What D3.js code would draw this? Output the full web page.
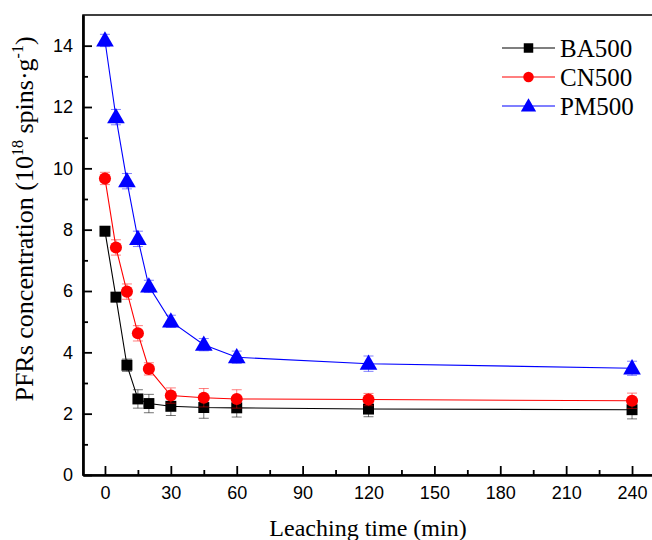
<!DOCTYPE html>
<html><head><meta charset="utf-8">
<script src="https://cdn.jsdelivr.net/npm/d3@7"></script>
<style>body{margin:0;background:#fff}</style>
</head><body><svg id="c" width="652" height="540"></svg>
<script>
const times = [0, 5, 10, 15, 20, 30, 45, 60, 120, 240];
const seriesNames = ["BA500", "CN500", "PM500"];
const ba500 = [7.95, 5.8, 3.58, 2.48, 2.33, 2.24, 2.2, 2.19, 2.15, 2.13];
const ba500Err = [0.15, 0.15, 0.2, 0.3, 0.3, 0.3, 0.35, 0.3, 0.25, 0.3];
const cn500 = [9.67, 7.42, 5.98, 4.62, 3.46, 2.59, 2.52, 2.48, 2.46, 2.42];
const cn500Err = [0.2, 0.25, 0.25, 0.25, 0.2, 0.25, 0.3, 0.3, 0.2, 0.25];
const pm500 = [14.17, 11.67, 9.58, 7.7, 6.15, 5.01, 4.25, 3.84, 3.63, 3.48];
const pm500Err = [0.2, 0.25, 0.25, 0.25, 0.2, 0.2, 0.2, 0.2, 0.25, 0.23];
const xTicks = [0, 30, 60, 90, 120, 150, 180, 210, 240];
const xMinor = [15, 45, 75, 105, 135, 165, 195, 225];
const yTicks = [0, 2, 4, 6, 8, 10, 12, 14];
const yMinor = [1, 3, 5, 7, 9, 11, 13];

const colors = ["#000000", "#ff0000", "#0000ff"];
const errColors = ["rgba(0,0,0,0.55)", "rgba(255,0,0,0.5)", "rgba(0,0,255,0.5)"];
const shapes = [d3.symbolSquare, d3.symbolCircle, d3.symbolTriangle];
const shapeSize = [120, 115, 135];

const svg = d3.select("#c");
const L = 83, R = 654, T = 15, B = 475;
const x = d3.scaleLinear().domain([-10, 250]).range([L, R]);
const y = d3.scaleLinear().domain([0, 15]).range([B, T]);

const data = [
  {name: seriesNames[0], v: ba500, e: ba500Err},
  {name: seriesNames[1], v: cn500, e: cn500Err},
  {name: seriesNames[2], v: pm500, e: pm500Err}
];

svg.append("rect").attr("x", L).attr("y", T).attr("width", R - L).attr("height", B - T)
  .attr("fill", "none").attr("stroke", "#000").attr("stroke-width", 1.5);

const xAxis = d3.axisBottom(x).tickValues(xTicks).tickSizeInner(-9).tickSizeOuter(0).tickPadding(11);
const gx = svg.append("g").attr("transform", `translate(0,${B})`).call(xAxis);
const xAxisMinor = d3.axisBottom(x).tickValues(xMinor).tickSizeInner(-5).tickSizeOuter(0).tickFormat("");
const gxm = svg.append("g").attr("transform", `translate(0,${B})`).call(xAxisMinor);
const yAxis = d3.axisLeft(y).tickValues(yTicks).tickSizeInner(-9).tickSizeOuter(0).tickPadding(10);
const gy = svg.append("g").attr("transform", `translate(${L},0)`).call(yAxis);
const yAxisMinor = d3.axisLeft(y).tickValues(yMinor).tickSizeInner(-5).tickSizeOuter(0).tickFormat("");
const gym = svg.append("g").attr("transform", `translate(${L},0)`).call(yAxisMinor);
[gx, gxm, gy, gym].forEach(g => {
  g.select(".domain").attr("stroke-width", 2.2);
  g.selectAll(".tick line").attr("stroke-width", 1.8);
  g.selectAll("text").attr("font-family", "Liberation Sans, Arial, sans-serif").attr("font-size", 18).attr("fill", "#000");
});
gx.selectAll("text").attr("dy", "0.71em");

data.forEach((s, i) => {
  const g = svg.append("g");
  const line = d3.line().x((d, j) => x(times[j])).y(d => y(d));
  g.append("path").datum(s.v).attr("d", line).attr("fill", "none")
    .attr("stroke", colors[i]).attr("stroke-width", 1.1);
  const eb = g.selectAll(".eb").data(s.v).enter().append("g").attr("stroke", errColors[i]).attr("stroke-width", 1);
  eb.append("line").attr("x1", (d, j) => x(times[j])).attr("x2", (d, j) => x(times[j]))
    .attr("y1", (d, j) => y(d + s.e[j])).attr("y2", (d, j) => y(d - s.e[j]));
  eb.append("line").attr("x1", (d, j) => x(times[j]) - 5).attr("x2", (d, j) => x(times[j]) + 5)
    .attr("y1", (d, j) => y(d + s.e[j])).attr("y2", (d, j) => y(d + s.e[j]));
  eb.append("line").attr("x1", (d, j) => x(times[j]) - 5).attr("x2", (d, j) => x(times[j]) + 5)
    .attr("y1", (d, j) => y(d - s.e[j])).attr("y2", (d, j) => y(d - s.e[j]));
  const sym = d3.symbol().type(shapes[i]).size(shapeSize[i]);
  g.selectAll(".m").data(s.v).enter().append("path")
    .attr("d", sym)
    .attr("transform", (d, j) => `translate(${x(times[j])},${y(d) + (i === 2 ? 1 : 0)})`)
    .attr("fill", colors[i]);
});

const lg = svg.append("g");
data.forEach((s, i) => {
  const yy = 48 + i * 29;
  lg.append("line").attr("x1", 502).attr("x2", 555).attr("y1", yy).attr("y2", yy)
    .attr("stroke", colors[i]).attr("stroke-width", 1.1);
  lg.append("path").attr("d", d3.symbol().type(shapes[i]).size(shapeSize[i] * 0.75))
    .attr("transform", `translate(528.5,${yy + (i === 2 ? 1 : 0)})`).attr("fill", colors[i]);
  lg.append("text").attr("x", 560).attr("y", yy + 8.5).text(s.name)
    .attr("font-family", "Liberation Serif, Times New Roman, serif").attr("font-size", 25).attr("fill", "#000");
});

svg.append("text").attr("x", 368).attr("y", 536).attr("text-anchor", "middle")
  .attr("font-family", "Liberation Serif, Times New Roman, serif").attr("font-size", 24)
  .text("Leaching time (min)");
const yt = svg.append("text").attr("transform", "translate(33,219) rotate(-90)").attr("text-anchor", "middle")
  .attr("font-family", "Liberation Serif, Times New Roman, serif").attr("font-size", 26);
yt.append("tspan").text("PFRs concentration (10");
yt.append("tspan").attr("font-size", 16).attr("dy", -10).text("18");
yt.append("tspan").attr("dy", 10).text(" spins·g");
yt.append("tspan").attr("font-size", 16).attr("dy", -10).text("-1");
yt.append("tspan").attr("dy", 10).text(")");
</script></body></html>
